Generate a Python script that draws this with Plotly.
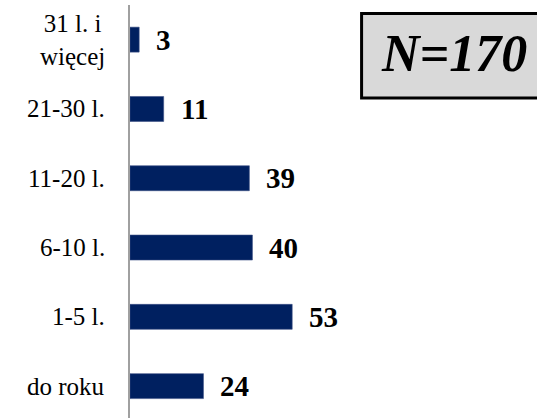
import plotly.graph_objects as go

categories = ["do roku", "1-5 l.", "6-10 l.", "11-20 l.", "21-30 l.", "31 l. i<br>więcej"]
values = [24, 53, 40, 39, 11, 3]
n_label = "N=170"

FONT = "Liberation Serif"
BAR = "#002060"

fig = go.Figure()
fig.add_trace(go.Bar(
    y=categories, x=values, orientation="h",
    marker=dict(color=BAR, line=dict(color="#3a4f85", width=0.6)),
    width=0.36, hoverinfo="skip",
))

annotations = []
for c, v in zip(categories, values):
    annotations.append(dict(
        x=v, y=c, xref="x", yref="y", text=f"<b>{v}</b>", showarrow=False,
        xanchor="left", yanchor="middle", xshift=15,
        font=dict(family=FONT, size=29, color="black"),
    ))
    annotations.append(dict(
        x=0, y=c, xref="x", yref="y", text=c, showarrow=False,
        xanchor="right", yanchor="middle", xshift=-23, align="center",
        font=dict(family=FONT, size=25, color="black"),
    ))

annotations.append(dict(
    x=0.612, y=0.8826, xref="paper", yref="paper", text=f"<b><i>{n_label}</i></b>",
    showarrow=False, xanchor="left", yanchor="middle",
    font=dict(family=FONT, size=52, color="black"),
))

fig.add_shape(type="rect", xref="paper", yref="paper",
              x0=0.569, x1=1.1, y0=0.775, y1=0.9794,
              fillcolor="#d9d9d9", line=dict(color="black", width=3), layer="below")

fig.update_layout(
    width=537, height=418,
    margin=dict(l=130, r=0, t=5, b=0),
    paper_bgcolor="white", plot_bgcolor="white",
    showlegend=False,
    annotations=annotations,
    xaxis=dict(range=[0, 133], visible=False, showgrid=False, zeroline=False),
    yaxis=dict(type="category", categoryorder="array", categoryarray=categories,
               range=[-0.46, 5.5], showticklabels=False, ticks="",
               showline=True, linecolor="#a0a0a0", linewidth=2,
               showgrid=False, zeroline=False),
)

fig.write_html("out.html", config={"displayModeBar": False, "staticPlot": True},
               post_script="document.body.style.margin='0px';document.body.style.overflow='hidden';")
